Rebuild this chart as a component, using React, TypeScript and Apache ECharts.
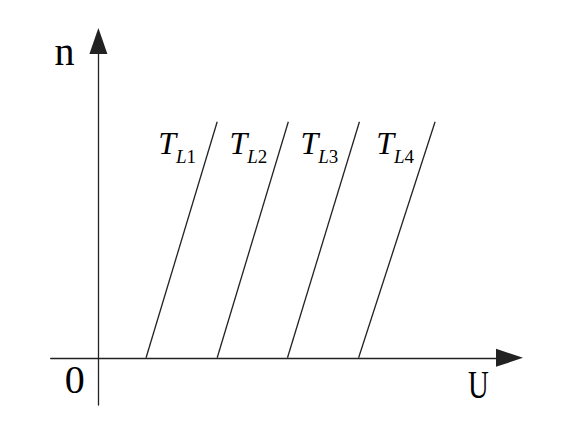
import React, { useEffect, useRef } from "react";
import * as echarts from "echarts";

// Characteristic lines: speed n versus voltage U for four load torques
const curveNames = ["T_L1", "T_L2", "T_L3", "T_L4"];
const subLabels = ["1", "2", "3", "4"];
const startU = [11.6, 28.9, 46.0, 63.3]; // U where n = 0
const endU = [28.9, 46.2, 63.5, 81.9]; // U at the top end
const endN = [74.5, 74.5, 74.5, 74.5]; // n at the top end

const xMin = -11.6;
const xMax = 100;
const yMin = -14.9;
const yMax = 100;

const serif = '"Liberation Serif", "Times New Roman", serif';

export default function App() {
  const ref = useRef<HTMLDivElement>(null);

  useEffect(() => {
    if (!ref.current) return;
    const chart = echarts.init(ref.current, undefined, { renderer: "svg" });

    const series = curveNames.map((name, i) => ({
      type: "line",
      name,
      symbol: "circle",
      symbolSize: 0,
      showSymbol: true,
      lineStyle: { color: "#222", width: 1.3 },
      itemStyle: { color: "#222" },
      label: { show: false },
      silent: true,
      data: [
        [startU[i], 0],
        {
          value: [endU[i], endN[i]],
          label: {
            show: true,
            position: "inside",
            offset: [-40, 25],
            formatter: `{t|T}{l|L}{d|${subLabels[i]}}`,
            rich: {
              t: {
                fontFamily: serif,
                fontStyle: "italic",
                fontSize: 32,
                color: "#000",
                lineHeight: 39,
                verticalAlign: "top",
              },
              l: {
                fontFamily: serif,
                fontStyle: "italic",
                fontSize: 19,
                color: "#000",
                verticalAlign: "bottom",
              },
              d: {
                fontFamily: serif,
                fontSize: 19,
                color: "#000",
                verticalAlign: "bottom",
              },
            },
          },
        },
      ],
    }));

    const axisCommon = {
      type: "value",
      axisTick: { show: false },
      axisLabel: { show: false },
      splitLine: { show: false },
    };

    chart.setOption({
      animation: false,
      backgroundColor: "#fff",
      grid: { left: 50.7, right: 57.5, top: 41, bottom: 22, containLabel: false },
      xAxis: {
        ...axisCommon,
        min: xMin,
        max: xMax,
        axisLine: {
          show: true,
          onZero: true,
          symbol: ["none", "triangle"],
          symbolSize: [18, 27],
          lineStyle: { color: "#222", width: 1.3 },
        },
      },
      yAxis: {
        ...axisCommon,
        min: yMin,
        max: yMax,
        axisLine: {
          show: true,
          onZero: true,
          symbol: ["none", "triangle"],
          symbolSize: [18, 26],
          lineStyle: { color: "#222", width: 1.3 },
        },
      },
      graphic: [
        {
          type: "text",
          x: 64.6,
          y: 51.5,
          style: {
            text: "n",
            fontFamily: serif,
            fontSize: 40,
            fill: "#000",
            align: "center",
            verticalAlign: "middle",
          },
        },
        {
          type: "text",
          x: 74.7,
          y: 379.5,
          style: {
            text: "0",
            fontFamily: serif,
            fontSize: 40,
            fill: "#000",
            align: "center",
            verticalAlign: "middle",
          },
        },
        {
          type: "text",
          x: 478.5,
          y: 384.5,
          scaleX: 0.72,
          style: {
            text: "U",
            fontFamily: serif,
            fontSize: 40,
            fill: "#000",
            align: "center",
            verticalAlign: "middle",
          },
        },
      ],
      series,
    });

    return () => chart.dispose();
  }, []);

  return (
    <div
      ref={ref}
      style={{ position: "fixed", left: 0, top: 0, width: 567, height: 427, background: "#fff" }}
    />
  );
}
